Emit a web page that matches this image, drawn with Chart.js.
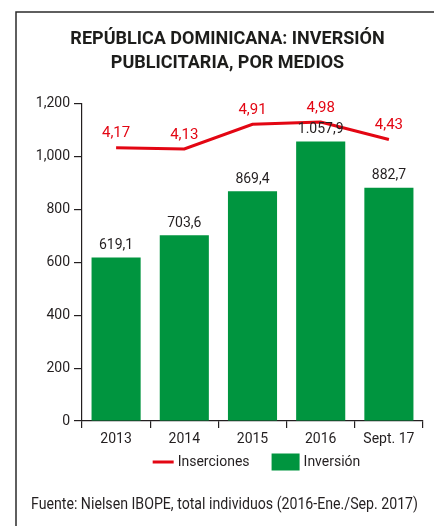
<!DOCTYPE html>
<html>
<head>
<meta charset="utf-8">
<script src="https://cdn.jsdelivr.net/npm/chart.js@4.4.1/dist/chart.umd.min.js"></script>
<style>
  html, body { margin: 0; padding: 0; background: #fff; }
  #wrap { width: 434px; height: 526px; }
</style>
</head>
<body>
<div id="wrap"><canvas id="chart" width="434" height="526"></canvas></div>
<script>
const years = ['2013', '2014', '2015', '2016', 'Sept. 17']
const inversion = [619.1, 703.6, 869.4, 1057.9, 882.7]
const inserciones = [4.17, 4.13, 4.91, 4.98, 4.43]
const yTicks = [0, 200, 400, 600, 800, 1000, 1200]
const titulo = ['REPÚBLICA DOMINICANA: INVERSIÓN', 'PUBLICITARIA, POR MEDIOS']
const fuente = 'Fuente: Nielsen IBOPE, total individuos (2016-Ene./Sep. 2017)'

const VERDE = '#00953f'
const ROJO = '#e30613'
const TINTA = '#231f20'

// 1.057,9 / 4,17
function fmtEs(v, dec) {
    const parts = v.toFixed(dec).split('.')
    parts[0] = parts[0].replace(/\B(?=(\d{3})+(?!\d))/g, '.')
    return parts.join(',')
}

// marco del grafico (arriba e izquierda)
const marco = {
    id: 'marco',
    beforeDraw(chart) {
        const ctx = chart.ctx
        ctx.save()
        ctx.strokeStyle = '#2b2b2b'
        ctx.lineWidth = 1.5
        ctx.beginPath()
        ctx.moveTo(chart.width, 12)
        ctx.lineTo(16, 12)
        ctx.lineTo(16, chart.height)
        ctx.stroke()
        ctx.restore()
    }
}

// etiquetas de valores
const etiquetas = {
    id: 'etiquetas',
    afterDatasetsDraw(chart) {
        const ctx = chart.ctx
        ctx.save()
        ctx.textAlign = 'center'
        ctx.textBaseline = 'middle'

        const bars = chart.getDatasetMeta(1).data
        ctx.font = '14px Roboto'
        ctx.fillStyle = TINTA
        bars.forEach((b, i) => {
            ctx.fillText(fmtEs(inversion[i], 1), b.x, b.y - 12)
        })

        const pts = chart.getDatasetMeta(0).data
        ctx.font = '15px Roboto'
        ctx.fillStyle = ROJO
        pts.forEach((p, i) => {
            ctx.fillText(fmtEs(inserciones[i], 2), p.x, p.y - 14)
        })
        ctx.restore()
    }
}

// leyenda y fuente
const pie = {
    id: 'pie',
    afterDraw(chart) {
        const ctx = chart.ctx
        const area = chart.chartArea
        const ds = chart.data.datasets
        ctx.save()
        ctx.font = '14px Roboto'
        ctx.textBaseline = 'middle'
        const yl = 462
        const w1 = ctx.measureText(ds[0].label).width
        const w2 = ctx.measureText(ds[1].label).width
        const total = 21 + 4 + w1 + 22 + 28 + 4 + w2
        let x = (area.left + area.right) / 2 + 4 - total / 2

        ctx.strokeStyle = ds[0].borderColor
        ctx.lineWidth = 3
        ctx.beginPath()
        ctx.moveTo(x, yl)
        ctx.lineTo(x + 21, yl)
        ctx.stroke()
        x += 25
        ctx.fillStyle = TINTA
        ctx.fillText(ds[0].label, x, yl)
        x += w1 + 22
        ctx.fillStyle = ds[1].backgroundColor
        ctx.fillRect(x, yl - 8.5, 28, 17)
        x += 32
        ctx.fillStyle = TINTA
        ctx.fillText(ds[1].label, x, yl)

        // fuente, algo condensada
        ctx.font = '16px Roboto'
        const wf = ctx.measureText(fuente).width
        const target = 387
        ctx.translate(31, 505)
        ctx.scale(target / wf, 1)
        ctx.fillText(fuente, 0, 0)
        ctx.restore()
    }
}

const ctx = document.getElementById('chart').getContext('2d')
const chart = new Chart(ctx, {
    type: 'bar',
    data: {
        labels: years,
        datasets: [{
            type: 'line',
            label: 'Inserciones',
            data: inserciones,
            borderColor: ROJO,
            backgroundColor: ROJO,
            borderWidth: 3,
            pointRadius: 0,
            tension: 0,
            yAxisID: 'y2',
            order: 0
        }, {
            type: 'bar',
            label: 'Inversión',
            data: inversion,
            backgroundColor: VERDE,
            barPercentage: 0.9,
            categoryPercentage: 0.8,
            yAxisID: 'y',
            order: 1
        }]
    },
    options: {
        responsive: false,
        animation: false,
        layout: {
            padding: { left: 32, right: 11, top: 0, bottom: 79 }
        },
        scales: {
            x: {
                grid: {
                    offset: true,
                    drawOnChartArea: false,
                    tickLength: 7,
                    color: TINTA,
                    lineWidth: 1.2
                },
                border: { color: TINTA, width: 1.2 },
                ticks: {
                    font: { family: 'Roboto', size: 14 },
                    color: TINTA,
                    padding: 3,
                    maxRotation: 0
                },
                afterFit(scale) { scale.height = 26 }
            },
            y: {
                min: 0,
                max: 1200,
                afterBuildTicks(scale) {
                    scale.ticks = yTicks.map(v => ({ value: v }))
                },
                grid: {
                    drawOnChartArea: false,
                    tickLength: 8,
                    color: TINTA,
                    lineWidth: 1.2
                },
                border: { color: TINTA, width: 1.2 },
                ticks: {
                    font: { family: 'Roboto', size: 14 },
                    color: TINTA,
                    padding: 4,
                    callback: v => v.toString().replace(/\B(?=(\d{3})+(?!\d))/g, ',')
                },
                afterFit(scale) { scale.width = 50 }
            },
            y2: {
                display: false,
                min: -4.45,
                max: 5.55
            }
        },
        plugins: {
            legend: { display: false },
            tooltip: { enabled: false },
            title: {
                display: true,
                text: titulo,
                color: '#1d1d1b',
                font: { family: 'Roboto', size: 18, weight: 'bold', lineHeight: 1.333 },
                padding: { top: 28, bottom: 28 }
            }
        }
    },
    plugins: [marco, etiquetas, pie]
})
</script>
</body>
</html>
